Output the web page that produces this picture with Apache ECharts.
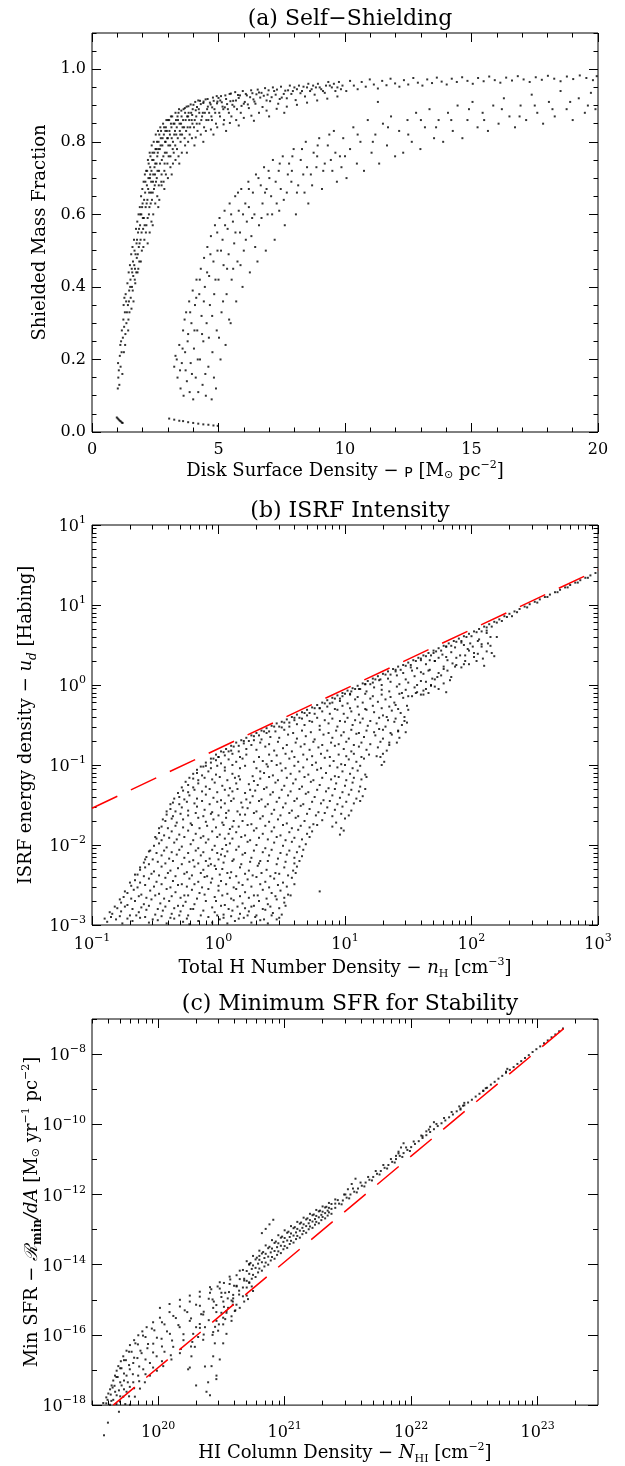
<!DOCTYPE html>
<html><head><meta charset="utf-8">
<script src="https://cdn.jsdelivr.net/npm/echarts@6/dist/echarts.min.js"></script>
<style>html,body{margin:0;padding:0;background:#fff}#c{width:625px;height:1466px}</style>
</head><body><div id="c"></div>
<script>
// ---------------- Panel (a) Self-Shielding: [surface density, shielded fraction] ----------------
const shieldUpper = [
[1.02,0.12],[1.04,0.15],[1.03,0.19],[1.06,0.17],[1.08,0.13],[1.10,0.21],[1.12,0.24],[1.13,0.18],[1.15,0.25],[1.17,0.22],[1.18,0.28],[1.20,0.16],[1.22,0.26],[1.24,0.31],[1.25,0.35],[1.27,0.29],[1.28,0.37],[1.30,0.33],[1.31,0.24],[1.33,0.38],[1.35,0.36],[1.36,0.30],
[1.40,0.41],[1.42,0.35],[1.43,0.28],[1.45,0.44],[1.47,0.39],[1.48,0.33],[1.50,0.46],[1.52,0.42],[1.53,0.37],[1.55,0.49],[1.57,0.45],[1.58,0.40],[1.60,0.51],[1.62,0.47],[1.63,0.43],[1.64,0.36],[1.66,0.53],[1.68,0.50],[1.70,0.45],[1.71,0.41],
[1.74,0.56],[1.76,0.52],[1.77,0.48],[1.79,0.58],[1.80,0.44],[1.82,0.55],[1.84,0.60],[1.85,0.51],[1.87,0.47],[1.89,0.62],[1.90,0.57],[1.92,0.53],[1.94,0.65],[1.95,0.60],[1.97,0.50],[1.99,0.67],[2.00,0.63],[2.02,0.56],[2.04,0.69],[2.05,0.59],[2.07,0.53],[2.09,0.71],[2.10,0.66],[2.12,0.62],[2.14,0.72],[2.15,0.57],[2.17,0.68],[2.19,0.64],
[2.21,0.75],[2.23,0.70],[2.25,0.60],[2.26,0.66],[2.28,0.77],[2.30,0.73],[2.32,0.63],[2.34,0.69],[2.36,0.79],[2.38,0.75],[2.40,0.66],[2.42,0.71],[2.44,0.80],[2.46,0.77],[2.48,0.68],[2.50,0.74],[2.52,0.82],[2.54,0.78],[2.56,0.70],[2.58,0.76],[2.61,0.83],[2.63,0.80],[2.65,0.72],[2.68,0.78],[2.70,0.84],[2.72,0.81],[2.74,0.69],[2.76,0.75],[2.78,0.79],
[2.81,0.85],[2.84,0.82],[2.86,0.72],[2.88,0.77],[2.91,0.80],[2.94,0.86],[2.96,0.83],[2.98,0.74],[3.02,0.79],[3.05,0.86],[3.08,0.82],[3.10,0.76],[3.14,0.84],[3.17,0.87],[3.20,0.80],[3.23,0.77],[3.26,0.85],[3.30,0.88],[3.33,0.82],[3.36,0.78],[3.40,0.86],[3.44,0.89],[3.47,0.83],[3.50,0.80],[3.54,0.87],[3.58,0.84],
[3.62,0.89],[3.66,0.81],[3.70,0.86],[3.74,0.897],[3.78,0.84],[3.82,0.88],[3.86,0.82],[3.90,0.903],[3.94,0.86],[3.98,0.89],[4.03,0.84],[4.08,0.91],[4.12,0.87],[4.17,0.83],[4.22,0.89],[4.27,0.913],[4.32,0.86],[4.38,0.88],[4.43,0.84],[4.49,0.917],[4.55,0.89],[4.60,0.86],[4.66,0.908],[4.72,0.87],[4.78,0.922],[4.84,0.89],[4.90,0.85],[4.96,0.911],
[5.03,0.88],[5.10,0.926],[5.16,0.897],[5.22,0.86],[5.30,0.918],[5.37,0.89],[5.44,0.932],[5.51,0.87],[5.58,0.913],[5.66,0.937],[5.73,0.89],[5.80,0.921],[5.88,0.88],[5.96,0.94],[6.04,0.91],[6.12,0.928],[6.20,0.893],[6.29,0.942],[6.38,0.917],[6.46,0.905],[6.55,0.944],[6.65,0.922],[6.74,0.896],[6.84,0.948],[6.94,0.93],
[7.04,0.912],[7.15,0.95],[7.26,0.93],[7.36,0.905],[7.47,0.952],[7.58,0.932],[7.70,0.92],[7.82,0.955],[7.94,0.94],[8.05,0.915],[8.18,0.955],[8.30,0.94],[8.42,0.925],[8.55,0.96],[8.68,0.945],[8.80,0.93],[8.93,0.96],[9.06,0.945],[9.20,0.935],[9.34,0.965],[9.48,0.95],[9.62,0.94],[9.76,0.965],[9.90,0.955],
[10.05,0.94],[10.2,0.968],[10.35,0.955],[10.5,0.945],[10.66,0.965],[10.82,0.952],[10.98,0.972],[11.14,0.958],[11.3,0.947],[11.47,0.968],[11.64,0.956],[11.8,0.974],[11.98,0.961],[12.15,0.952],[12.33,0.97],[12.5,0.958],[12.7,0.976],[12.88,0.963],[13.06,0.955],[13.25,0.972],[13.44,0.962],[13.63,0.977],[13.82,0.966],[14.02,0.958],[14.22,0.974],[14.42,0.965],[14.63,0.978],[14.84,0.968],[15.05,0.96],[15.26,0.976],[15.48,0.967],[15.7,0.98],[15.92,0.97],[16.14,0.963],[16.37,0.977],[16.6,0.969],[16.83,0.981],[17.06,0.972],[17.3,0.965],[17.54,0.978],[17.78,0.971],[18.02,0.982],[18.27,0.974],[18.52,0.967],[18.77,0.98],[19.02,0.973],[19.28,0.983],[19.54,0.976],[19.8,0.97],[19.95,0.981],
[2.3,0.71],[2.47,0.73],[2.6,0.77],[2.9,0.83],[3.0,0.81],[3.12,0.85],[3.28,0.83],[3.38,0.87],[3.52,0.85],[3.68,0.88],[3.8,0.87],[3.96,0.874],[4.15,0.896],[4.25,0.85],[4.4,0.907],[4.58,0.897],[4.75,0.895],[4.93,0.926],[5.07,0.914],[5.25,0.895],[5.47,0.912],[5.62,0.897],[5.85,0.928],[6.0,0.905],[6.25,0.923],[6.5,0.931],[6.7,0.935],[6.9,0.914],[7.2,0.94],[7.5,0.922],[7.75,0.942],[8.1,0.945],[8.5,0.95],[8.85,0.95],[9.25,0.955],[9.7,0.95],
[1.26,0.22],[1.32,0.27],[1.38,0.33],[1.44,0.31],[1.46,0.36],[1.51,0.40],[1.56,0.34],[1.59,0.44],[1.61,0.39],[1.67,0.46],[1.69,0.42],[1.72,0.49],[1.75,0.44],[1.78,0.53],[1.81,0.49],[1.83,0.45],[1.86,0.56],[1.88,0.52],[1.91,0.60],[1.93,0.47],[1.96,0.55],[1.98,0.62],[2.01,0.59],[2.03,0.51],[2.06,0.64],[2.08,0.57],[2.11,0.69],[2.13,0.55],[2.16,0.63],[2.18,0.72],[2.2,0.59],[2.22,0.67],[2.24,0.74],[2.27,0.62],[2.29,0.70],[2.31,0.76],[2.33,0.66],[2.35,0.72],[2.37,0.64],[2.39,0.77],[2.41,0.69],[2.43,0.75],[2.45,0.67],[2.49,0.71],[2.51,0.78],[2.53,0.69],[2.55,0.74],[2.57,0.80],[2.59,0.72],[2.62,0.78],[2.64,0.68],[2.66,0.82],[2.69,0.74],[2.71,0.79],[2.73,0.83],[2.75,0.71],[2.79,0.81],[2.82,0.76],[2.85,0.84],[2.87,0.74],[2.89,0.80],[2.92,0.84],[2.95,0.77],[2.97,0.81],[3.0,0.86],[3.03,0.76],[3.06,0.83],[3.09,0.79],[3.12,0.87],[3.15,0.81],[3.19,0.78],[3.22,0.85],[3.25,0.82],[3.29,0.79],[3.32,0.86],[3.35,0.84],[3.39,0.81],[3.42,0.88],[3.46,0.85],[3.49,0.82],[3.53,0.886],[3.56,0.82],[3.6,0.86],[3.64,0.84],[3.67,0.893],[3.72,0.83],[3.76,0.87],[3.81,0.898],[3.84,0.86],[3.88,0.84],[3.92,0.88],[3.97,0.85],[4.01,0.902],[4.06,0.86],[4.1,0.887],[4.14,0.85],[4.2,0.914],[4.24,0.88],[4.3,0.904],[4.35,0.87],[4.41,0.911],[4.46,0.88],[4.52,0.86],[4.57,0.918],[4.63,0.88],[4.69,0.903],[4.74,0.86],[4.81,0.913],[4.87,0.88],[4.94,0.906],[5.0,0.921],[5.06,0.87],[5.13,0.909],[5.19,0.89],[5.27,0.928],[5.34,0.904],[5.41,0.88],[5.49,0.933],[5.55,0.902],[5.69,0.914],[5.77,0.929],[5.91,0.899],[6.08,0.932],[6.16,0.903],[6.34,0.934],[6.42,0.911],[6.6,0.936],[6.79,0.927],[6.98,0.942],[7.1,0.923],[7.31,0.944],[7.42,0.918],[7.64,0.941],[7.88,0.932],[8.0,0.95],[8.24,0.934],[8.36,0.952],[8.62,0.94],[8.74,0.955],[9.0,0.95],[9.13,0.94],[9.4,0.955],[9.56,0.96],[9.84,0.945],
[2.2,0.52],[2.28,0.55],[2.35,0.58],[2.42,0.6],[2.5,0.63],[2.58,0.65],[2.66,0.64],[2.75,0.68],[2.83,0.69],[2.92,0.71],[3.0,0.70],[3.1,0.73],[3.2,0.74],[3.3,0.75],[3.42,0.76],[3.55,0.77],[3.68,0.79],[3.8,0.80],[3.95,0.81],[4.1,0.812],[4.3,0.82],[4.5,0.83],[4.7,0.834],[4.95,0.84],[5.2,0.848],[5.45,0.852],[5.7,0.86],[6.0,0.866],[6.3,0.872],[6.6,0.88],[6.9,0.886],[7.3,0.891],[7.7,0.897],[8.1,0.902],[8.5,0.908],[8.9,0.914],[9.3,0.919],[9.7,0.925],
[2.4,0.57],[2.62,0.62],[2.86,0.67],[3.15,0.71],[3.45,0.74],[3.75,0.77],[4.05,0.79],[4.4,0.80],[4.8,0.82],[5.3,0.83],[5.8,0.845],[6.4,0.858],[7.0,0.87],[7.6,0.88]
];
const shieldLower = [
[3.25,0.18],[3.30,0.21],[3.38,0.15],[3.45,0.24],[3.50,0.12],[3.55,0.19],[3.60,0.28],[3.62,0.10],[3.68,0.22],[3.72,0.33],[3.75,0.14],[3.80,0.27],[3.84,0.36],[3.86,0.11],[3.90,0.19],[3.93,0.30],[3.98,0.39],[4.00,0.09],[4.03,0.23],[4.07,0.35],[4.10,0.15],[4.13,0.42],[4.16,0.28],[4.20,0.11],[4.24,0.38],[4.27,0.20],[4.30,0.45],[4.33,0.32],[4.37,0.13],[4.40,0.25],[4.43,0.48],[4.46,0.40],[4.50,0.10],[4.53,0.30],[4.56,0.51],[4.60,0.18],[4.63,0.43],[4.66,0.35],[4.70,0.54],[4.73,0.09],[4.76,0.22],[4.80,0.47],[4.83,0.38],[4.86,0.57],[4.90,0.12],[4.93,0.28],[4.96,0.50],[5.00,0.42],
[5.04,0.59],[5.08,0.20],[5.12,0.33],[5.16,0.53],[5.20,0.46],[5.24,0.61],[5.28,0.24],[5.32,0.38],[5.36,0.56],[5.40,0.49],[5.44,0.63],[5.48,0.30],[5.52,0.42],[5.57,0.58],[5.62,0.52],[5.66,0.65],[5.70,0.36],[5.75,0.47],[5.80,0.61],[5.85,0.55],[5.90,0.67],[5.95,0.40],[6.00,0.50],[6.06,0.63],[6.12,0.58],[6.18,0.69],[6.24,0.44],[6.30,0.54],[6.36,0.66],[6.42,0.60],[6.48,0.71],[6.54,0.47],[6.60,0.57],[6.67,0.68],[6.74,0.63],[6.80,0.73],[6.87,0.50],[6.94,0.60],
[7.01,0.70],[7.08,0.65],[7.15,0.75],[7.22,0.53],[7.30,0.63],[7.38,0.72],[7.46,0.67],[7.54,0.76],[7.62,0.57],[7.70,0.66],[7.79,0.74],[7.88,0.69],[7.97,0.78],[8.06,0.60],[8.15,0.68],[8.25,0.75],[8.35,0.71],[8.45,0.80],[8.55,0.63],[8.65,0.71],[8.76,0.77],[8.87,0.73],[8.98,0.81],[9.09,0.67],[9.20,0.74],[9.32,0.79],[9.44,0.75],[9.56,0.83],[9.68,0.69],[9.80,0.76],[9.93,0.81],
[10.06,0.70],[10.2,0.78],[10.33,0.84],[10.47,0.74],[10.61,0.80],[10.75,0.72],[10.9,0.86],[11.05,0.77],[11.2,0.82],[11.3,0.91],[11.35,0.74],[11.5,0.85],[11.66,0.79],[11.82,0.87],[11.98,0.76],[12.14,0.83],[12.3,0.77],[12.47,0.86],[12.64,0.80],[12.81,0.88],[12.98,0.78],[13.16,0.84],[13.34,0.89],[13.52,0.81],[13.7,0.86],[13.88,0.80],[14.07,0.88],[14.26,0.83],[14.45,0.90],[14.64,0.81],[14.84,0.86],[15.04,0.91],[15.24,0.84],[15.44,0.88],[15.65,0.83],[15.86,0.90],[16.07,0.85],[16.28,0.92],[16.5,0.87],[16.72,0.84],[16.94,0.90],[17.16,0.86],[17.38,0.93],[17.6,0.88],[17.83,0.85],[18.06,0.91],[18.29,0.87],[18.52,0.94],[18.76,0.89],[19.0,0.86],[19.24,0.92],[19.48,0.88],[19.72,0.935],[19.9,0.89],
[6.2,0.62],[6.9,0.67],[7.4,0.61],[7.9,0.72],[8.4,0.66],[8.9,0.76],[9.5,0.72],[10.0,0.76],[10.5,0.82],[11.1,0.8],[11.7,0.84],[12.5,0.82],[13.0,0.86],[13.6,0.84],[14.2,0.86],[14.9,0.89],[15.5,0.86],[16.2,0.89],[16.9,0.87],[17.5,0.9],[18.2,0.89],[18.9,0.91],[19.6,0.9],
[3.35,0.2],[3.48,0.17],[3.58,0.23],[3.66,0.31],[3.7,0.17],[3.78,0.25],[3.88,0.33],[3.95,0.16],[4.05,0.28],[4.12,0.37],[4.18,0.2],[4.26,0.42],[4.35,0.27],[4.42,0.36],[4.48,0.16],[4.55,0.44],[4.62,0.26],[4.68,0.49],[4.75,0.32],[4.82,0.15],[4.88,0.42],[4.95,0.55],[5.02,0.26],[5.1,0.5],[5.18,0.36],[5.26,0.57],[5.34,0.45],[5.42,0.31],[5.5,0.6],[5.58,0.45],[5.67,0.55],[5.77,0.66],[5.87,0.46],[5.97,0.6],[6.08,0.53],[6.2,0.67],[6.33,0.59],[6.45,0.51],[6.58,0.7],[6.7,0.59],[6.84,0.66],[6.98,0.72],[7.12,0.6],[7.26,0.69],[7.42,0.74],[7.58,0.64],[7.74,0.71],[7.92,0.76],[8.1,0.66],[8.3,0.78],[8.5,0.73],[8.7,0.68],[8.92,0.79],[9.14,0.72],[9.38,0.82],[9.62,0.77],[9.86,0.73]
];
const shieldNearZero = [
[0.98,0.04],[1.02,0.037],[1.06,0.034],[1.1,0.031],[1.14,0.029],[1.18,0.026],[1.21,0.025],
[3.05,0.037],[3.25,0.034],[3.45,0.031],[3.6,0.03],[3.8,0.027],[4.0,0.025],[4.2,0.023],[4.4,0.021],[4.6,0.02],[4.8,0.018],[4.97,0.017]
];
const aXTicks = [0,5,10,15,20];
const aYTicks = [0,0.2,0.4,0.6,0.8,1.0];

// ---------------- Panel (b) ISRF: [log10 nH (cm^-3), log10 u_d (Habing)] ----------------
const isrfEnvelope = [
[-0.9,-2.92],[-0.86,-2.84],[-0.82,-2.77],[-0.78,-2.68],[-0.74,-2.58],[-0.7,-2.47],[-0.66,-2.37],[-0.62,-2.28],[-0.58,-2.18],[-0.54,-2.07],[-0.5,-1.9],[-0.47,-1.79],[-0.44,-1.68],[-0.41,-1.58],[-0.38,-1.49],[-0.35,-1.42],[-0.32,-1.35],[-0.29,-1.28],[-0.26,-1.21],[-0.23,-1.16],[-0.2,-1.11],[-0.17,-1.06],[-0.14,-1.02],[-0.1,-0.97],[-0.06,-0.92],[-0.02,-0.87],[0.02,-0.83],[0.06,-0.8],[0.1,-0.76],[0.14,-0.72],[0.18,-0.69],[0.22,-0.66],[0.26,-0.63],[0.3,-0.6],[0.34,-0.57],[0.38,-0.54],[0.42,-0.51],[0.46,-0.48],[0.5,-0.46],[0.54,-0.43],[0.58,-0.4],[0.62,-0.37],[0.66,-0.34],[0.7,-0.31],[0.74,-0.28],[0.78,-0.25],[0.82,-0.22],[0.86,-0.19],[0.9,-0.16],[0.94,-0.13],[0.98,-0.1],[1.02,-0.07],[1.06,-0.04],[1.1,-0.01],[1.14,0.02],[1.18,0.05],[1.22,0.08],[1.26,0.11],[1.3,0.14],[1.34,0.17],[1.38,0.2],[1.42,0.23],[1.46,0.25],[1.5,0.28],[1.54,0.31],[1.58,0.34],[1.62,0.37],[1.66,0.4],[1.7,0.43],[1.74,0.46],[1.78,0.49],[1.82,0.52],[1.86,0.55],[1.9,0.58],[1.94,0.61],[1.98,0.64],[2.02,0.67],[2.06,0.7],[2.1,0.73],[2.14,0.76],[2.18,0.79],[2.22,0.82],[2.26,0.86],[2.3,0.89],[2.34,0.92],[2.38,0.95],[2.42,0.98],[2.46,1.01],[2.5,1.04],[2.54,1.07],[2.58,1.1],[2.62,1.13],[2.66,1.16],[2.7,1.19],[2.74,1.22],[2.78,1.25],[2.82,1.28],[2.86,1.31],[2.9,1.34],[2.94,1.37],[2.98,1.4],
[0.0,-0.9],[0.08,-0.83],[0.16,-0.76],[0.24,-0.7],[0.32,-0.63],[0.4,-0.58],[0.48,-0.52],[0.56,-0.47],[0.64,-0.41],[0.72,-0.35],[0.8,-0.29],[0.88,-0.23],[0.96,-0.17],[1.04,-0.11],[1.12,-0.05],[1.2,0.01],[1.28,0.07],[1.36,0.13],[1.44,0.19],[1.52,0.25],[1.6,0.31],[1.68,0.37],[1.76,0.43],[1.84,0.49],[1.92,0.55],[2.0,0.61],[2.08,0.67],[2.16,0.73],[2.24,0.8],[2.32,0.86],
[-0.12,-1.02],[-0.04,-0.92],[0.04,-0.84],[0.12,-0.77],[0.2,-0.7],[0.28,-0.64],[0.36,-0.58],[0.44,-0.52],[0.52,-0.47],[0.6,-0.41],[0.68,-0.35],[0.76,-0.29],[0.84,-0.23],[0.92,-0.17],[1.0,-0.11],[1.08,-0.05],[1.16,0.01],[1.24,0.07],[1.32,0.13],[1.4,0.19],[1.48,0.24],[1.56,0.3],[1.64,0.36],[1.72,0.42],[1.8,0.48],[1.88,0.54],[1.96,0.6],[2.04,0.66],[2.12,0.72],[2.2,0.78],[2.28,0.85],[2.36,0.91],[2.44,0.97],[2.52,1.03],[2.6,1.1],[2.68,1.16],[2.76,1.22],[2.84,1.28],[2.92,1.34]
];
const isrfCloud = [
[-0.88,-2.96],[-0.81,-2.93],[-0.76,-2.98],[-0.68,-2.95],[-0.62,-2.91],[-0.55,-2.97],[-0.48,-2.94],[-0.41,-2.98],[-0.35,-2.92],[-0.28,-2.96],[-0.23,-2.99],[-0.05,-2.97],[0.01,-2.93],[0.07,-2.98],[0.13,-2.95],[0.2,-2.91],[0.26,-2.97],[0.33,-2.94],[0.39,-2.98],[0.46,-2.93],
[-0.84,-2.86],[-0.77,-2.83],[-0.7,-2.88],[-0.63,-2.84],[-0.57,-2.81],[-0.5,-2.87],[-0.44,-2.82],[-0.37,-2.86],[-0.3,-2.83],[-0.24,-2.88],[-0.2,-2.8],[-0.03,-2.84],[0.04,-2.87],[0.11,-2.82],[0.17,-2.86],[0.24,-2.83],[0.3,-2.88],[0.37,-2.81],[0.43,-2.85],[0.5,-2.87],
[-0.77,-2.72],[-0.72,-2.75],[-0.66,-2.7],[-0.59,-2.74],[-0.53,-2.68],[-0.46,-2.73],[-0.39,-2.7],[-0.32,-2.76],[-0.26,-2.71],[-0.19,-2.74],[-0.02,-2.7],[0.05,-2.75],[0.12,-2.69],[0.19,-2.73],[0.26,-2.77],[0.32,-2.7],[0.39,-2.74],[0.46,-2.68],[0.52,-2.72],
[-0.72,-2.6],[-0.67,-2.56],[-0.61,-2.62],[-0.54,-2.57],[-0.47,-2.61],[-0.41,-2.55],[-0.34,-2.59],[-0.27,-2.63],[-0.21,-2.56],[-0.15,-2.6],[0.0,-2.57],[0.07,-2.61],[0.14,-2.55],[0.21,-2.59],[0.28,-2.63],[0.35,-2.56],[0.42,-2.6],[0.49,-2.57],[0.55,-2.62],[0.8,-2.58],
[-0.66,-2.44],[-0.62,-2.47],[-0.55,-2.42],[-0.49,-2.46],[-0.42,-2.41],[-0.36,-2.45],[-0.29,-2.49],[-0.23,-2.42],[-0.16,-2.46],[-0.11,-2.4],[0.02,-2.45],[0.09,-2.41],[0.16,-2.47],[0.23,-2.43],[0.3,-2.4],[0.37,-2.46],[0.44,-2.42],[0.51,-2.47],[0.58,-2.41],
[-0.62,-2.31],[-0.58,-2.28],[-0.51,-2.33],[-0.45,-2.27],[-0.38,-2.32],[-0.32,-2.29],[-0.25,-2.34],[-0.19,-2.27],[-0.12,-2.31],[-0.08,-2.26],[0.03,-2.3],[0.1,-2.34],[0.17,-2.28],[0.24,-2.32],[0.31,-2.26],[0.38,-2.31],[0.45,-2.35],[0.52,-2.28],[0.59,-2.32],[0.62,-2.27],
[-0.57,-2.15],[-0.52,-2.18],[-0.45,-2.13],[-0.39,-2.17],[-0.33,-2.12],[-0.27,-2.16],[-0.2,-2.19],[-0.14,-2.13],[-0.07,-2.17],[0.05,-2.14],[0.12,-2.18],[0.19,-2.12],[0.26,-2.16],[0.33,-2.2],[0.4,-2.13],[0.47,-2.17],[0.54,-2.12],[0.6,-2.16],[0.66,-2.14],
[-0.51,-2.01],[-0.47,-1.98],[-0.41,-2.03],[-0.35,-1.97],[-0.29,-2.02],[-0.22,-1.99],[-0.16,-2.04],[-0.1,-1.97],[-0.03,-2.01],[0.09,-1.98],[0.16,-2.02],[0.23,-1.96],[0.3,-2.0],[0.37,-2.04],[0.44,-1.97],[0.51,-2.01],[0.58,-1.96],[0.64,-2.02],[0.69,-1.99],
[-0.47,-1.85],[-0.43,-1.88],[-0.37,-1.83],[-0.31,-1.87],[-0.24,-1.82],[-0.18,-1.86],[-0.12,-1.89],[-0.05,-1.83],[0.01,-1.87],[0.14,-1.84],[0.21,-1.88],[0.28,-1.82],[0.35,-1.86],[0.42,-1.83],[0.49,-1.88],[0.56,-1.84],[0.63,-1.81],[0.7,-1.86],[0.74,-1.83],[0.96,-1.87],[0.99,-1.82],
[-0.42,-1.7],[-0.37,-1.67],[-0.33,-1.72],[-0.28,-1.68],[-0.22,-1.73],[-0.16,-1.66],[-0.1,-1.71],[-0.04,-1.68],[0.03,-1.72],[0.06,-1.66],[0.19,-1.7],[0.26,-1.74],[0.33,-1.67],[0.4,-1.71],[0.47,-1.68],[0.54,-1.73],[0.61,-1.66],[0.68,-1.7],[0.75,-1.74],[0.82,-1.69],[0.93,-1.72],[1.0,-1.67],
[-0.38,-1.55],[-0.34,-1.58],[-0.29,-1.53],[-0.24,-1.57],[-0.17,-1.52],[-0.11,-1.56],[-0.05,-1.59],[0.02,-1.53],[0.08,-1.57],[0.23,-1.54],[0.3,-1.58],[0.37,-1.52],[0.44,-1.56],[0.51,-1.53],[0.58,-1.57],[0.65,-1.51],[0.72,-1.55],[0.79,-1.59],[0.86,-1.53],[0.92,-1.56],[0.98,-1.52],[1.05,-1.57],
[-0.31,-1.4],[-0.27,-1.43],[-0.23,-1.38],[-0.17,-1.42],[-0.1,-1.37],[-0.04,-1.41],[0.02,-1.44],[0.08,-1.38],[0.12,-1.42],[0.27,-1.39],[0.34,-1.43],[0.41,-1.37],[0.48,-1.41],[0.55,-1.38],[0.62,-1.42],[0.69,-1.36],[0.76,-1.4],[0.83,-1.44],[0.9,-1.38],[0.96,-1.41],[1.03,-1.37],[1.09,-1.42],[1.14,-1.39],
[-0.24,-1.25],[-0.2,-1.28],[-0.16,-1.23],[-0.1,-1.27],[-0.03,-1.22],[0.03,-1.26],[0.09,-1.29],[0.14,-1.23],[0.31,-1.25],[0.38,-1.28],[0.45,-1.22],[0.52,-1.26],[0.59,-1.23],[0.66,-1.27],[0.73,-1.21],[0.8,-1.25],[0.87,-1.29],[0.93,-1.23],[1.0,-1.26],[1.06,-1.22],[1.12,-1.27],
[-0.17,-1.1],[-0.13,-1.13],[-0.08,-1.08],[-0.02,-1.12],[0.05,-1.07],[0.11,-1.11],[0.16,-1.14],[0.36,-1.1],[0.43,-1.13],[0.5,-1.07],[0.57,-1.11],[0.64,-1.08],[0.71,-1.12],[0.78,-1.06],[0.85,-1.1],[0.92,-1.14],[0.98,-1.08],[1.04,-1.11],[1.1,-1.07],[1.16,-1.12],
[-0.06,-0.97],[-0.02,-0.94],[0.02,-0.98],[0.08,-0.93],[0.14,-0.96],[0.19,-0.92],[0.42,-0.95],[0.49,-0.98],[0.56,-0.92],[0.63,-0.96],[0.7,-0.93],[0.77,-0.97],[0.84,-0.91],[0.91,-0.95],[0.97,-0.99],[1.03,-0.93],[1.09,-0.96],[1.15,-0.92],[1.31,-0.96],
[0.1,-0.82],[0.16,-0.83],[0.22,-0.8],[0.3,-0.81],[0.37,-0.77],[0.44,-0.82],[0.51,-0.79],[0.58,-0.83],[0.65,-0.77],[0.72,-0.81],[0.79,-0.78],[0.86,-0.82],[0.92,-0.76],[0.99,-0.8],[1.05,-0.83],[1.11,-0.77],[1.17,-0.81],[1.26,-0.78],[1.33,-0.82],
[0.28,-0.69],[0.34,-0.68],[0.41,-0.65],[0.48,-0.66],[0.55,-0.62],[0.62,-0.67],[0.69,-0.64],[0.76,-0.68],[0.83,-0.62],[0.9,-0.66],[0.97,-0.63],[1.03,-0.67],[1.09,-0.61],[1.15,-0.65],[1.24,-0.63],[1.3,-0.67],[1.37,-0.62],[1.43,-0.66],
[0.5,-0.53],[0.56,-0.52],[0.62,-0.49],[0.68,-0.5],[0.74,-0.46],[0.8,-0.51],[0.87,-0.48],[0.94,-0.52],[1.0,-0.46],[1.06,-0.5],[1.12,-0.47],[1.18,-0.51],[1.25,-0.48],[1.32,-0.52],[1.39,-0.46],[1.45,-0.5],[1.49,-0.47],
[0.7,-0.38],[0.76,-0.36],[0.82,-0.33],[0.88,-0.36],[0.94,-0.31],[0.99,-0.36],[1.05,-0.33],[1.11,-0.37],[1.17,-0.31],[1.23,-0.34],[1.3,-0.38],[1.37,-0.32],[1.44,-0.35],[1.5,-0.31],
[0.9,-0.22],[0.96,-0.2],[1.02,-0.23],[1.08,-0.18],[1.14,-0.22],[1.2,-0.17],[1.26,-0.21],[1.32,-0.18],[1.39,-0.22],[1.46,-0.16],[1.53,-0.14],[1.6,-0.12],[1.66,-0.1],
[1.05,-0.08],[1.11,-0.05],[1.17,-0.08],[1.23,-0.03],[1.29,-0.06],[1.35,-0.08],[1.41,-0.02],[1.48,-0.06],[1.55,-0.03],[1.62,-0.07],[1.68,-0.01],[1.74,-0.05],[1.8,-0.09],
[1.27,0.06],[1.34,0.08],[1.41,0.12],[1.48,0.07],[1.55,0.11],[1.62,0.14],[1.69,0.08],[1.76,0.12],[1.83,0.06],
[1.52,0.22],[1.57,0.21],[1.64,0.26],[1.71,0.3],[1.78,0.23],[1.85,0.27],[1.92,0.22],[1.98,0.26],[2.04,0.3],[2.1,0.24],
[1.7,0.4],[1.77,0.38],[1.84,0.41],[1.91,0.37],[1.98,0.43],[2.05,0.39],[2.12,0.42],[2.18,0.36],
[1.92,0.53],[1.99,0.52],[2.06,0.57],[2.13,0.52],[2.12,0.68],
[1.28,-0.9],[1.35,-0.72],[1.42,-0.58],[1.47,-0.4],[1.27,-0.55],[1.33,-0.4],[1.4,-0.25],[1.45,-0.1],
[1.56,-0.1],[1.62,-0.12],[1.68,0.0],[1.73,0.1],[1.78,0.2],[1.6,0.05],[1.66,0.18],[1.71,0.3],[1.8,0.35],
[1.88,0.25],[1.95,0.3],[2.02,0.4],[2.08,0.48],[2.15,0.6],[1.97,0.45],[2.05,0.55],[2.12,0.65],
[-0.85,-2.9],[-0.78,-2.89],[-0.72,-2.92],[-0.65,-2.88],[-0.58,-2.9],[-0.52,-2.93],[-0.45,-2.89],[-0.38,-2.91],[-0.31,-2.88],[-0.25,-2.92],[-0.08,-2.9],[-0.01,-2.88],[0.04,-2.91],[0.1,-2.89],[0.16,-2.92],[0.23,-2.88],[0.29,-2.9],[0.36,-2.93],[0.42,-2.88],[0.48,-2.91],
[-0.8,-2.79],[-0.74,-2.77],[-0.68,-2.8],[-0.61,-2.78],[-0.55,-2.76],[-0.48,-2.8],[-0.42,-2.77],[-0.35,-2.79],[-0.28,-2.76],[-0.22,-2.8],[-0.05,-2.78],[0.02,-2.76],[0.08,-2.8],[0.15,-2.77],[0.21,-2.79],[0.28,-2.76],[0.35,-2.8],[0.41,-2.77],[0.48,-2.79],[0.53,-2.76],
[-0.75,-2.65],[-0.69,-2.67],[-0.63,-2.64],[-0.57,-2.66],[-0.5,-2.63],[-0.43,-2.67],[-0.37,-2.64],[-0.3,-2.66],[-0.24,-2.63],[-0.17,-2.67],[-0.03,-2.65],[0.03,-2.63],[0.1,-2.67],[0.17,-2.64],[0.24,-2.66],[0.31,-2.63],[0.38,-2.67],[0.45,-2.64],[0.52,-2.66],[0.57,-2.63],
[-0.69,-2.51],[-0.64,-2.53],[-0.58,-2.5],[-0.51,-2.52],[-0.45,-2.49],[-0.38,-2.53],[-0.32,-2.5],[-0.25,-2.52],[-0.19,-2.49],[-0.13,-2.53],[0.0,-2.51],[0.06,-2.49],[0.12,-2.53],[0.19,-2.5],[0.26,-2.52],[0.33,-2.49],[0.4,-2.53],[0.47,-2.5],[0.54,-2.52],[0.6,-2.49],
[-0.64,-2.37],[-0.59,-2.39],[-0.53,-2.36],[-0.47,-2.38],[-0.4,-2.35],[-0.34,-2.39],[-0.27,-2.36],[-0.21,-2.38],[-0.14,-2.35],[-0.09,-2.39],[0.01,-2.37],[0.07,-2.35],[0.14,-2.39],[0.21,-2.36],[0.27,-2.38],[0.34,-2.35],[0.41,-2.39],[0.48,-2.36],[0.55,-2.38],[0.61,-2.35],
[-0.59,-2.22],[-0.55,-2.24],[-0.48,-2.21],[-0.42,-2.23],[-0.36,-2.2],[-0.29,-2.24],[-0.23,-2.21],[-0.16,-2.23],[-0.1,-2.2],[-0.06,-2.24],[0.04,-2.22],[0.11,-2.2],[0.18,-2.24],[0.25,-2.21],[0.32,-2.23],[0.39,-2.2],[0.46,-2.24],[0.53,-2.21],[0.6,-2.23],[0.64,-2.2],
[-0.55,-2.08],[-0.49,-2.1],[-0.43,-2.07],[-0.37,-2.09],[-0.31,-2.06],[-0.24,-2.1],[-0.18,-2.07],[-0.12,-2.09],[-0.05,-2.06],[-0.01,-2.1],[0.07,-2.08],[0.14,-2.06],[0.21,-2.1],[0.28,-2.07],[0.35,-2.09],[0.42,-2.06],[0.49,-2.1],[0.56,-2.07],[0.62,-2.09],[0.67,-2.06],
[-0.49,-1.92],[-0.45,-1.94],[-0.39,-1.91],[-0.33,-1.93],[-0.27,-1.9],[-0.2,-1.94],[-0.14,-1.91],[-0.08,-1.93],[-0.01,-1.9],[0.11,-1.92],[0.18,-1.9],[0.25,-1.94],[0.32,-1.91],[0.39,-1.93],[0.46,-1.9],[0.53,-1.94],[0.6,-1.91],[0.66,-1.93],[0.72,-1.9],
[-0.45,-1.77],[-0.4,-1.79],[-0.34,-1.76],[-0.28,-1.78],[-0.21,-1.75],[-0.15,-1.79],[-0.09,-1.76],[-0.02,-1.78],[0.04,-1.75],[0.16,-1.77],[0.23,-1.75],[0.3,-1.79],[0.37,-1.76],[0.44,-1.78],[0.51,-1.75],[0.58,-1.79],[0.65,-1.76],[0.72,-1.78],[0.78,-1.75],[0.9,-1.77],[0.97,-1.79],
[-0.41,-1.62],[-0.36,-1.64],[-0.3,-1.61],[-0.24,-1.63],[-0.18,-1.6],[-0.12,-1.64],[-0.06,-1.61],[0.0,-1.63],[0.06,-1.6],[0.21,-1.62],[0.28,-1.6],[0.35,-1.64],[0.42,-1.61],[0.49,-1.63],[0.56,-1.6],[0.63,-1.64],[0.7,-1.61],[0.77,-1.63],[0.84,-1.6],[0.9,-1.64],[0.97,-1.61],[1.03,-1.63],
[-0.36,-1.47],[-0.31,-1.49],[-0.25,-1.46],[-0.19,-1.48],[-0.13,-1.45],[-0.07,-1.49],[-0.01,-1.46],[0.05,-1.48],[0.1,-1.45],[0.25,-1.47],[0.32,-1.45],[0.39,-1.49],[0.46,-1.46],[0.53,-1.48],[0.6,-1.45],[0.67,-1.49],[0.74,-1.46],[0.81,-1.48],[0.88,-1.45],[0.94,-1.49],[1.01,-1.46],[1.07,-1.48],[1.12,-1.45],
[-0.28,-1.32],[-0.24,-1.34],[-0.19,-1.31],[-0.13,-1.33],[-0.07,-1.3],[-0.01,-1.34],[0.05,-1.31],[0.11,-1.33],[0.15,-1.3],[0.29,-1.32],[0.36,-1.3],[0.43,-1.34],[0.5,-1.31],[0.57,-1.33],[0.64,-1.3],[0.71,-1.34],[0.78,-1.31],[0.85,-1.33],[0.92,-1.3],[0.98,-1.34],[1.05,-1.31],[1.11,-1.33],[1.16,-1.3],
[-0.2,-1.17],[-0.16,-1.19],[-0.11,-1.16],[-0.05,-1.18],[0.01,-1.15],[0.07,-1.19],[0.13,-1.16],[0.17,-1.18],[0.33,-1.17],[0.4,-1.15],[0.47,-1.19],[0.54,-1.16],[0.61,-1.18],[0.68,-1.15],[0.75,-1.19],[0.82,-1.16],[0.89,-1.18],[0.95,-1.15],[1.01,-1.19],[1.07,-1.16],[1.13,-1.18],[1.17,-1.15],
[-0.1,-1.01],[-0.06,-1.04],[-0.01,-1.01],[0.05,-1.03],[0.11,-1.0],[0.17,-1.04],[0.21,-1.01],[0.39,-1.02],[0.46,-1.0],[0.53,-1.04],[0.6,-1.01],[0.67,-1.03],[0.74,-1.0],[0.81,-1.04],[0.88,-1.01],[0.94,-1.03],[1.0,-1.0],[1.06,-1.04],[1.12,-1.01],[1.29,-1.0],
[0.0,-0.9],[0.05,-0.88],[0.11,-0.86],[0.17,-0.9],[0.22,-0.87],[0.46,-0.88],[0.53,-0.86],[0.6,-0.9],[0.67,-0.87],[0.74,-0.89],[0.81,-0.86],[0.88,-0.9],[0.95,-0.87],[1.01,-0.89],[1.07,-0.86],[1.13,-0.9],[1.19,-0.87],[1.25,-0.89],[1.3,-0.86],
[0.2,-0.73],[0.26,-0.75],[0.33,-0.72],[0.4,-0.74],[0.47,-0.71],[0.54,-0.75],[0.61,-0.72],[0.68,-0.74],[0.75,-0.71],[0.82,-0.75],[0.89,-0.72],[0.95,-0.74],[1.01,-0.71],[1.07,-0.75],[1.13,-0.72],[1.2,-0.74],[1.28,-0.71],[1.35,-0.75],[1.41,-0.72],
[0.38,-0.6],[0.45,-0.58],[0.52,-0.56],[0.59,-0.6],[0.66,-0.57],[0.73,-0.59],[0.8,-0.56],[0.87,-0.6],[0.93,-0.57],[0.99,-0.59],[1.05,-0.56],[1.11,-0.6],[1.17,-0.57],[1.23,-0.59],[1.3,-0.56],[1.36,-0.6],[1.42,-0.57],[1.48,-0.59],
[0.6,-0.44],[0.66,-0.42],[0.72,-0.45],[0.78,-0.41],[0.84,-0.44],[0.9,-0.42],[0.96,-0.45],[1.02,-0.41],[1.08,-0.44],[1.14,-0.42],[1.2,-0.45],[1.27,-0.41],[1.34,-0.44],[1.4,-0.42],[1.47,-0.45],
[0.8,-0.29],[0.86,-0.27],[0.92,-0.3],[0.98,-0.26],[1.04,-0.29],[1.1,-0.27],[1.16,-0.3],[1.22,-0.26],[1.29,-0.29],[1.35,-0.27],[1.42,-0.3],[1.49,-0.26],
[0.98,-0.14],[1.04,-0.12],[1.1,-0.15],[1.16,-0.11],[1.22,-0.14],[1.29,-0.12],[1.36,-0.15],[1.43,-0.11],[1.5,-0.14],[1.57,-0.09],[1.64,-0.05],[1.71,-0.02],
[1.16,0.01],[1.22,0.03],[1.29,0.0],[1.36,0.04],[1.43,0.01],[1.5,0.03],[1.57,0.0],[1.64,0.04],[1.71,0.07],[1.78,0.02],[1.84,0.1],
[1.4,0.17],[1.46,0.15],[1.53,0.18],[1.6,0.16],[1.67,0.19],[1.74,0.15],[1.81,0.18],[1.87,0.23],[1.94,0.26],
[1.6,0.33],[1.67,0.31],[1.74,0.34],[1.81,0.31],[1.88,0.34],[1.95,0.37],[2.02,0.35],[2.09,0.33],[2.16,0.4],
[1.8,0.48],[1.87,0.47],[1.94,0.5],[2.01,0.48],[2.08,0.51],[2.15,0.49],[2.2,0.6],
[-0.16,-2.95],[-0.12,-2.82],[-0.1,-2.7],[-0.08,-2.55],[-0.05,-2.42],[-0.02,-2.3],[0.0,-2.18],[0.03,-2.05],[0.05,-1.92],[0.09,-1.8],[0.12,-1.7],[0.15,-1.58],[0.18,-1.47],[0.21,-1.35],[0.24,-1.24],[0.27,-1.14],[0.3,-1.04],[0.35,-0.95],[0.4,-0.87],[0.32,-0.9],
[-0.14,-2.88],[-0.11,-2.62],[-0.06,-2.47],[-0.03,-2.26],[0.02,-2.12],[0.06,-2.0],[0.08,-1.86],[0.11,-1.77],[0.17,-1.62],[0.19,-1.53],[0.22,-1.43],[0.25,-1.31],[0.28,-1.2],[0.33,-1.08],[0.38,-0.99],[0.28,-0.96]
];
const isrfFit = [[-1,-1.54],[3,1.44]];
const bXTicks = [-1,0,1,2,3];
const bXTickLabels = ['\u22121','0','1','2','3'];
const bYTicks = [-3,-2,-1,0,1,2];
const bYTickLabels = ['\u22123','\u22122','\u22121','0','1','1'];

// ---------------- Panel (c) Min SFR: [log10 N_HI (cm^-2), log10 SFR (Msun/yr/pc^2)] ----------------
const sfrFan = [
[20.014,-15.23],[20.09,-15.12],[20.172,-15.0],[20.25,-14.88],[20.329,-14.77],[20.41,-14.64],[20.487,-14.5],[20.565,-14.34],[20.645,-14.17],[20.72,-13.98],[20.8,-13.75],
[19.566,-17.94],[19.59,-17.78],[19.606,-17.67],[19.62,-17.55],[19.632,-17.44],[19.645,-17.3],[19.659,-17.16],[19.672,-17.02],[19.685,-16.89],[19.705,-16.75],[19.724,-16.61],[19.75,-16.45],[19.777,-16.29],[19.81,-16.15],[19.843,-16.01],[19.875,-15.9],[19.909,-15.78],[19.96,-15.64],[20.014,-15.51],[20.09,-15.35],[20.172,-15.19],[20.25,-15.05],[20.329,-14.91],[20.41,-14.8],[20.487,-14.68],[20.565,-14.55],[20.645,-14.41],
[19.59,-17.95],[19.625,-17.7],[19.655,-17.45],[19.68,-17.2],[19.71,-16.95],[19.745,-16.72],[19.79,-16.48],[19.84,-16.27],[19.9,-16.06],[19.97,-15.87],[20.05,-15.7],[20.14,-15.52],[20.23,-15.35],[20.33,-15.17],[20.43,-14.99],[20.53,-14.8],[20.62,-14.6],
[19.619,-17.99],[19.645,-17.85],[19.672,-17.72],[19.69,-17.58],[19.711,-17.44],[19.73,-17.3],[19.75,-17.16],[19.776,-16.98],[19.803,-16.8],[19.836,-16.66],[19.869,-16.52],[19.915,-16.38],[19.961,-16.25],[20.027,-16.11],[20.093,-15.97],[20.17,-15.78],[20.25,-15.6],[20.34,-15.41],[20.435,-15.23],[20.515,-15.05],[20.593,-14.86],[20.67,-14.65],
[19.698,-17.9],[19.724,-17.76],[19.75,-17.62],[19.776,-17.48],[19.803,-17.35],[19.842,-17.16],[19.882,-16.98],[19.935,-16.8],[19.988,-16.61],[20.05,-16.48],[20.119,-16.34],[20.2,-16.15],[20.277,-15.97],[20.37,-15.78],[20.461,-15.6],[20.54,-15.37],[20.619,-15.14],[20.7,-14.88],
[19.777,-17.99],[19.816,-17.76],[19.856,-17.53],[19.895,-17.35],[19.935,-17.16],[19.99,-17.02],[20.04,-16.89],[20.105,-16.7],[20.172,-16.52],[20.26,-16.33],[20.356,-16.14],[20.435,-15.92],[20.514,-15.7],[20.58,-15.47],[20.645,-15.23],[20.71,-14.98],
[19.6,-17.85],[19.64,-17.5],[19.67,-17.2],[19.7,-16.95],[19.73,-16.72],[19.77,-16.48],[19.82,-16.24],[19.88,-16.02],[19.95,-15.82],[20.03,-15.64],[20.12,-15.46],[20.21,-15.3],[20.3,-15.14],[20.4,-14.97],[20.5,-14.8],[20.6,-14.6],[20.68,-14.4],
[19.63,-17.88],[19.66,-17.62],[19.7,-17.35],[19.73,-17.1],[19.77,-16.86],[19.81,-16.65],[19.86,-16.45],[19.92,-16.26],[19.99,-16.08],[20.07,-15.9],[20.16,-15.72],[20.26,-15.53],[20.36,-15.34],[20.46,-15.15],[20.55,-14.96],[20.64,-14.74],[20.72,-14.5],
[19.67,-17.97],[19.7,-17.75],[19.73,-17.55],[19.76,-17.35],[19.8,-17.12],[19.85,-16.9],[19.9,-16.7],[19.96,-16.5],[20.03,-16.33],[20.11,-16.16],[20.2,-15.98],[20.3,-15.78],[20.4,-15.58],[20.5,-15.37],[20.59,-15.14],[20.67,-14.9],[20.74,-14.62],
[19.74,-17.97],[19.77,-17.75],[19.81,-17.52],[19.85,-17.32],[19.9,-17.12],[19.96,-16.93],[20.03,-16.75],[20.1,-16.58],[20.18,-16.4],[20.27,-16.2],[20.36,-15.99],[20.45,-15.77],[20.53,-15.55],[20.61,-15.3],[20.68,-15.05],[20.75,-14.75]
];
const sfrBand = [
[20.7,-13.9],[20.75,-13.75],[20.8,-13.6],[20.85,-13.45],[20.9,-13.3],[20.95,-13.16],[21.0,-13.02],[21.05,-12.9],[21.1,-12.78],[21.15,-12.66],[21.2,-12.55],[21.25,-12.44],[21.3,-12.34],[21.35,-12.24],[21.4,-12.14],
[20.72,-14.0],[20.77,-13.85],[20.82,-13.68],[20.87,-13.53],[20.92,-13.38],[20.97,-13.23],[21.02,-13.09],[21.07,-12.96],[21.12,-12.83],[21.17,-12.71],[21.22,-12.59],[21.27,-12.48],[21.32,-12.37],[21.37,-12.27],
[20.7,-14.18],[20.75,-14.02],[20.8,-13.86],[20.85,-13.69],[20.9,-13.54],[20.95,-13.39],[21.0,-13.24],[21.05,-13.11],[21.1,-12.98],[21.15,-12.85],[21.2,-12.73],[21.25,-12.61],[21.3,-12.49],[21.35,-12.38],[21.4,-12.26],
[20.72,-14.26],[20.77,-14.09],[20.82,-13.93],[20.87,-13.77],[20.92,-13.61],[20.97,-13.46],[21.02,-13.31],[21.07,-13.17],[21.12,-13.03],[21.17,-12.9],[21.22,-12.77],[21.27,-12.65],[21.32,-12.53],[21.37,-12.41],
[20.7,-14.46],[20.75,-14.29],[20.8,-14.11],[20.85,-13.94],[20.9,-13.78],[20.95,-13.62],[21.0,-13.47],[21.05,-13.32],[21.1,-13.18],[21.15,-13.04],[21.2,-12.91],[21.25,-12.78],[21.3,-12.64],[21.35,-12.51],[21.4,-12.38],
[20.72,-14.52],[20.77,-14.35],[20.82,-14.17],[20.87,-14.0],[20.92,-13.83],[20.97,-13.67],[21.02,-13.52],[21.07,-13.37],[21.12,-13.23],[21.17,-13.09],[21.22,-12.95],[21.27,-12.82],[21.32,-12.68],[21.37,-12.55],
[20.73,-13.95],[20.78,-13.8],[20.83,-13.64],[20.88,-13.49],[20.93,-13.34],[20.98,-13.2],[21.03,-13.06],[21.08,-12.93],[21.13,-12.8],[21.18,-12.68],[21.23,-12.57],[21.28,-12.46],[21.33,-12.35],
[20.74,-14.12],[20.79,-13.97],[20.84,-13.81],[20.89,-13.65],[20.94,-13.5],[20.99,-13.35],[21.04,-13.21],[21.09,-13.08],[21.14,-12.95],[21.19,-12.82],[21.24,-12.7],[21.29,-12.58],[21.34,-12.46],
[20.74,-14.4],[20.79,-14.22],[20.84,-14.05],[20.89,-13.88],[20.94,-13.72],[20.99,-13.56],[21.04,-13.41],[21.09,-13.27],[21.14,-13.13],[21.19,-12.99],[21.24,-12.86],[21.29,-12.73],[21.34,-12.6],
[20.42,-14.7],[20.47,-14.62],[20.52,-14.52],[20.57,-14.42],[20.62,-14.3],[20.67,-14.15],
[20.44,-15.05],[20.5,-14.92],[20.56,-14.78],[20.62,-14.62],[20.68,-14.45],
[20.46,-15.35],[20.52,-15.2],[20.58,-15.02],[20.64,-14.85],[20.7,-14.65]
];
const sfrMain = [
[21.43,-12.26],[21.46,-12.17],[21.49,-12.09],[21.52,-12.0],[21.55,-11.92],[21.58,-11.83],[21.61,-11.75],[21.64,-11.66],[21.67,-11.58],[21.7,-11.5],[21.73,-11.41],[21.76,-11.33],[21.79,-11.24],[21.82,-11.16],[21.85,-11.07],[21.88,-10.99],[21.91,-10.9],[21.94,-10.82],[21.97,-10.73],[22.0,-10.65],[22.03,-10.56],[22.06,-10.48],[22.09,-10.39],[22.12,-10.31],[22.15,-10.22],[22.18,-10.14],[22.21,-10.05],[22.24,-9.97],[22.27,-9.89],[22.3,-9.8],[22.33,-9.72],[22.36,-9.63],[22.39,-9.55],[22.42,-9.46],[22.45,-9.38],[22.48,-9.3],[22.51,-9.21],[22.54,-9.13],[22.57,-9.04],[22.6,-8.96],[22.63,-8.87],[22.66,-8.79],[22.69,-8.7],[22.72,-8.62],[22.75,-8.53],[22.78,-8.45],[22.81,-8.37],[22.84,-8.28],[22.87,-8.2],[22.9,-8.11],[22.93,-8.03],[22.96,-7.94],[22.99,-7.86],[23.02,-7.78],[23.05,-7.69],[23.08,-7.61],[23.11,-7.52],[23.14,-7.44],[23.17,-7.35],[23.2,-7.27],
[21.42,-12.16],[21.48,-12.0],[21.54,-11.83],[21.6,-11.66],[21.66,-11.5],[21.72,-11.33],[21.78,-11.16],[21.84,-10.99],[21.9,-10.83],[21.96,-10.66],[22.02,-10.49],[22.08,-10.32],[22.14,-10.15],[22.2,-9.99],[22.26,-9.82],[22.32,-9.65],[22.38,-9.49],
[21.45,-12.28],[21.51,-12.11],[21.57,-11.94],[21.63,-11.77],[21.69,-11.6],[21.75,-11.43],[21.81,-11.26],[21.87,-11.09],[21.93,-10.93],[21.99,-10.76]
];
const sfrSpikes = [
[20.82,-13.1],[20.85,-12.98],[20.88,-12.85],[20.91,-12.72],
[21.47,-12.0],[21.5,-11.85],[21.53,-11.7],[21.56,-11.55],
[21.88,-10.9],[21.9,-10.78],[21.92,-10.66],[21.94,-10.54],
[22.09,-10.34],[22.12,-10.2],[22.15,-10.07],[22.18,-9.94],
[22.39,-9.58],[22.41,-9.47],[22.42,-9.39],
[22.57,-9.05],[22.59,-8.97],
[22.75,-8.5],[22.76,-8.42]
];
const sfrSpray = [
[20.237,-16.98],[20.263,-16.61],[20.29,-16.34],[20.316,-16.06],[20.329,-15.69],[20.356,-15.42],
[20.382,-17.62],[20.395,-17.35],[20.422,-16.89],[20.435,-16.61],[20.448,-16.24],[20.474,-15.88],[20.514,-15.51],[20.553,-15.23],[20.593,-14.96],
[20.461,-17.16],[20.487,-16.7],[20.514,-16.24],[20.54,-15.97],[20.58,-15.6],[20.606,-15.32],
[20.3,-17.44],[20.41,-17.72],[20.46,-17.26],[20.25,-16.93],[20.37,-16.9],[20.33,-15.8],[20.43,-16.0],[20.48,-15.7],[20.54,-15.32],[20.59,-15.05]
];
const sfrBelowAxis = [[19.603,-18.5],[19.572,-18.86],[19.69,-18.19]];
const sfrFit = [[19.645,-18.0],[23.297,-7.0]];
const cXTicks = [20,21,22,23];
const cYTicks = [-18,-16,-14,-12,-10,-8];

// ---------------- chart ----------------
const FONT = 'DejaVu Serif';
const BLACK = '#000';
const NAME_SIZE = 18;
const GRIDS = [
  {left:92, top:33, width:506, height:399},
  {left:92, top:525, width:506, height:400},
  {left:92, top:1019, width:506, height:398}
];
function logMinor(d0, d1, lo, hi) {
  const out = [];
  for (let d = d0; d <= d1; d++) for (let k = 2; k <= 9; k++) {
    const v = d + Math.log10(k);
    if (v > lo && v < hi) out.push(v);
  }
  return out;
}
function range(a, b, s) { const o = []; for (let v = a; v <= b + 1e-9; v += s) o.push(+v.toFixed(6)); return o; }

const tickRich = {
  b: {fontFamily: FONT, fontSize: 16, color: BLACK, verticalAlign: 'bottom', lineHeight: 17},
  s: {fontFamily: FONT, fontSize: 11, color: BLACK, verticalAlign: 'bottom', padding: [0,0,9,0]}
};
const nameRich = {
  n: {fontFamily: FONT, fontSize: NAME_SIZE, color: BLACK, verticalAlign: 'bottom', padding: [0,0,3,0]},
  i: {fontFamily: FONT, fontSize: NAME_SIZE, fontStyle: 'italic', color: BLACK, verticalAlign: 'bottom', padding: [0,0,3,0]},
  p: {fontFamily: 'DejaVu Sans', fontSize: 14, color: BLACK, verticalAlign: 'bottom', padding: [0,0,3,0]},
  sub: {fontFamily: FONT, fontSize: 11, color: BLACK, verticalAlign: 'bottom', padding: [0,0,0,0]},
  isub: {fontFamily: FONT, fontSize: 12, fontStyle: 'italic', color: BLACK, verticalAlign: 'bottom', padding: [0,0,0,0]},
  bsub: {fontFamily: FONT, fontSize: 12, fontWeight: 'bold', color: BLACK, verticalAlign: 'bottom', padding: [0,0,0,0]},
  sun: {fontFamily: 'DejaVu Sans', fontSize: 11, color: BLACK, verticalAlign: 'bottom', padding: [0,0,2,0]},
  sup: {fontFamily: FONT, fontSize: 11, color: BLACK, verticalAlign: 'bottom', padding: [0,0,12,0]}
};

const xAxes = [], yAxes = [];
function addAxes(list, dim, gi, min, max, major, minor, majLen, minLen, label, name, nameGap, extra) {
  const posA = dim === 'x' ? 'bottom' : 'left';
  const posB = dim === 'x' ? 'top' : 'right';
  const base = {type: 'value', gridIndex: gi, min: min, max: max, axisLine: {show: false, onZero: false}, splitLine: {show: false}};
  const first = list.length;
  const mk = (pos, vals, len, withLabel) => Object.assign({}, base, {
    position: pos,
    axisTick: {show: true, inside: true, length: len, customValues: vals, lineStyle: {color: BLACK, width: 1}},
    axisLabel: withLabel ? Object.assign({show: true, color: BLACK, fontFamily: FONT, fontSize: 16}, label) : {show: false}
  });
  const a0 = mk(posA, major, majLen, true);
  if (name) {
    a0.name = name; a0.nameLocation = 'middle'; a0.nameGap = nameGap;
    a0.nameTextStyle = {fontFamily: FONT, fontSize: NAME_SIZE, color: BLACK, rich: nameRich};
  }
  if (extra) Object.assign(a0, extra);
  list.push(a0, mk(posA, minor, minLen, false), mk(posB, major, majLen, false), mk(posB, minor, minLen, false));
  return first;
}
const supFmt = (vals, labels) => (v) => {
  const i = vals.findIndex(t => Math.abs(t - v) < 1e-6);
  return i < 0 ? '' : '{b|10}{s|' + labels[i] + '}';
};

// panel a
const ax = addAxes(xAxes, 'x', 0, 0, 20, aXTicks, range(0, 20, 1), 9, 4.5,
  {customValues: aXTicks, margin: 10, formatter: v => String(v)},
  '{n|Disk Surface Density \u2212 }{p|P}{n| [M}{sun|\u2299}{n| pc}{sup|\u22122}{n|]}', 28);
const ay = addAxes(yAxes, 'y', 0, 0, 1.1, aYTicks, range(0, 1.1, 0.05), 9, 4.5,
  {customValues: aYTicks, margin: 6, formatter: v => v.toFixed(1)},
  '{n|Shielded Mass Fraction}', 40);
// panel b
const bx = addAxes(xAxes, 'x', 1, -1, 3, bXTicks, logMinor(-1, 2, -1, 3), 9, 4.5,
  {customValues: bXTicks, margin: 8, formatter: supFmt(bXTicks, bXTickLabels), rich: tickRich},
  '{n|Total H Number Density \u2212 }{i|n}{sub|H}{n| [cm}{sup|\u22123}{n|]}', 32);
const by = addAxes(yAxes, 'y', 1, -3, 2, bYTicks, logMinor(-3, 1, -3, 2), 9, 4.5,
  {customValues: bYTicks, margin: 6, formatter: supFmt(bYTicks, bYTickLabels), rich: tickRich},
  '{n|ISRF energy density \u2212 }{i|u}{isub|d}{n| [Habing]}', 48);
// panel c
const cx = addAxes(xAxes, 'x', 2, 19.477, 23.477, cXTicks, logMinor(19, 23, 19.477, 23.477), 9, 4.5,
  {customValues: cXTicks, margin: 16, formatter: supFmt(cXTicks, ['20','21','22','23']), rich: tickRich},
  '{n|HI Column Density \u2212 }{i|N}{sub|HI}{n| [cm}{sup|\u22122}{n|]}', 26);
const cy = addAxes(yAxes, 'y', 2, -18, -7, cYTicks, range(-17, -7, 2), 10, 5,
  {customValues: cYTicks, margin: 6, formatter: supFmt(cYTicks, ['\u221218','\u221216','\u221214','\u221212','\u221210','\u22128']), rich: tickRich},
  '{n|Min SFR \u2212 }{i|\u211B}{bsub|min}{i|/dA}{n| [M}{sun|\u2299}{n| yr}{sup|\u22121}{n| pc}{sup|\u22122}{n|]}', 48,
  {nameMoveOverlap: false});

const dot = (name, data, xi, yi, extra) => Object.assign({
  name, type: 'scatter', data, xAxisIndex: xi, yAxisIndex: yi,
  symbol: 'rect', symbolSize: 2, itemStyle: {color: BLACK}, silent: true, z: 3
}, extra || {});
const fit = (name, data, xi, yi) => ({
  name, type: 'line', data, xAxisIndex: xi, yAxisIndex: yi, showSymbol: false, symbol: 'none',
  lineStyle: {color: '#ff0000', width: 1.5, type: [28, 15]}, silent: true, z: 5
});

const titleStyle = {fontFamily: FONT, fontSize: 22, fontWeight: 'normal', color: BLACK};
const option = {
  animation: false,
  backgroundColor: '#fff',
  title: [
    {text: '(a) Self\u2212Shielding', left: 345, top: 3, textAlign: 'center', textStyle: titleStyle},
    {text: '(b) ISRF Intensity', left: 345, top: 495, textAlign: 'center', textStyle: titleStyle},
    {text: '(c) Minimum SFR for Stability', left: 345, top: 988, textAlign: 'center', textStyle: titleStyle}
  ],
  grid: GRIDS.map(g => Object.assign({show: true, borderColor: BLACK, borderWidth: 1, backgroundColor: 'transparent', containLabel: false}, g)),
  xAxis: xAxes,
  yAxis: yAxes,
  series: [
    dot('upper band', shieldUpper, ax, ay),
    dot('lower band', shieldLower, ax, ay),
    dot('near zero', shieldNearZero, ax, ay),
    dot('envelope', isrfEnvelope, bx, by),
    dot('cloud', isrfCloud, bx, by),
    fit('ISRF fit', isrfFit, bx, by),
    dot('fan', sfrFan, cx, cy),
    dot('band', sfrBand, cx, cy),
    dot('main', sfrMain, cx, cy),
    dot('spikes', sfrSpikes, cx, cy),
    dot('spray', sfrSpray, cx, cy),
    dot('below axis', sfrBelowAxis, cx, cy, {clip: false}),
    fit('SFR fit', sfrFit, cx, cy)
  ]
};
const chart = echarts.init(document.getElementById('c'), null, {renderer: 'canvas'});
chart.setOption(option);
</script></body></html>
